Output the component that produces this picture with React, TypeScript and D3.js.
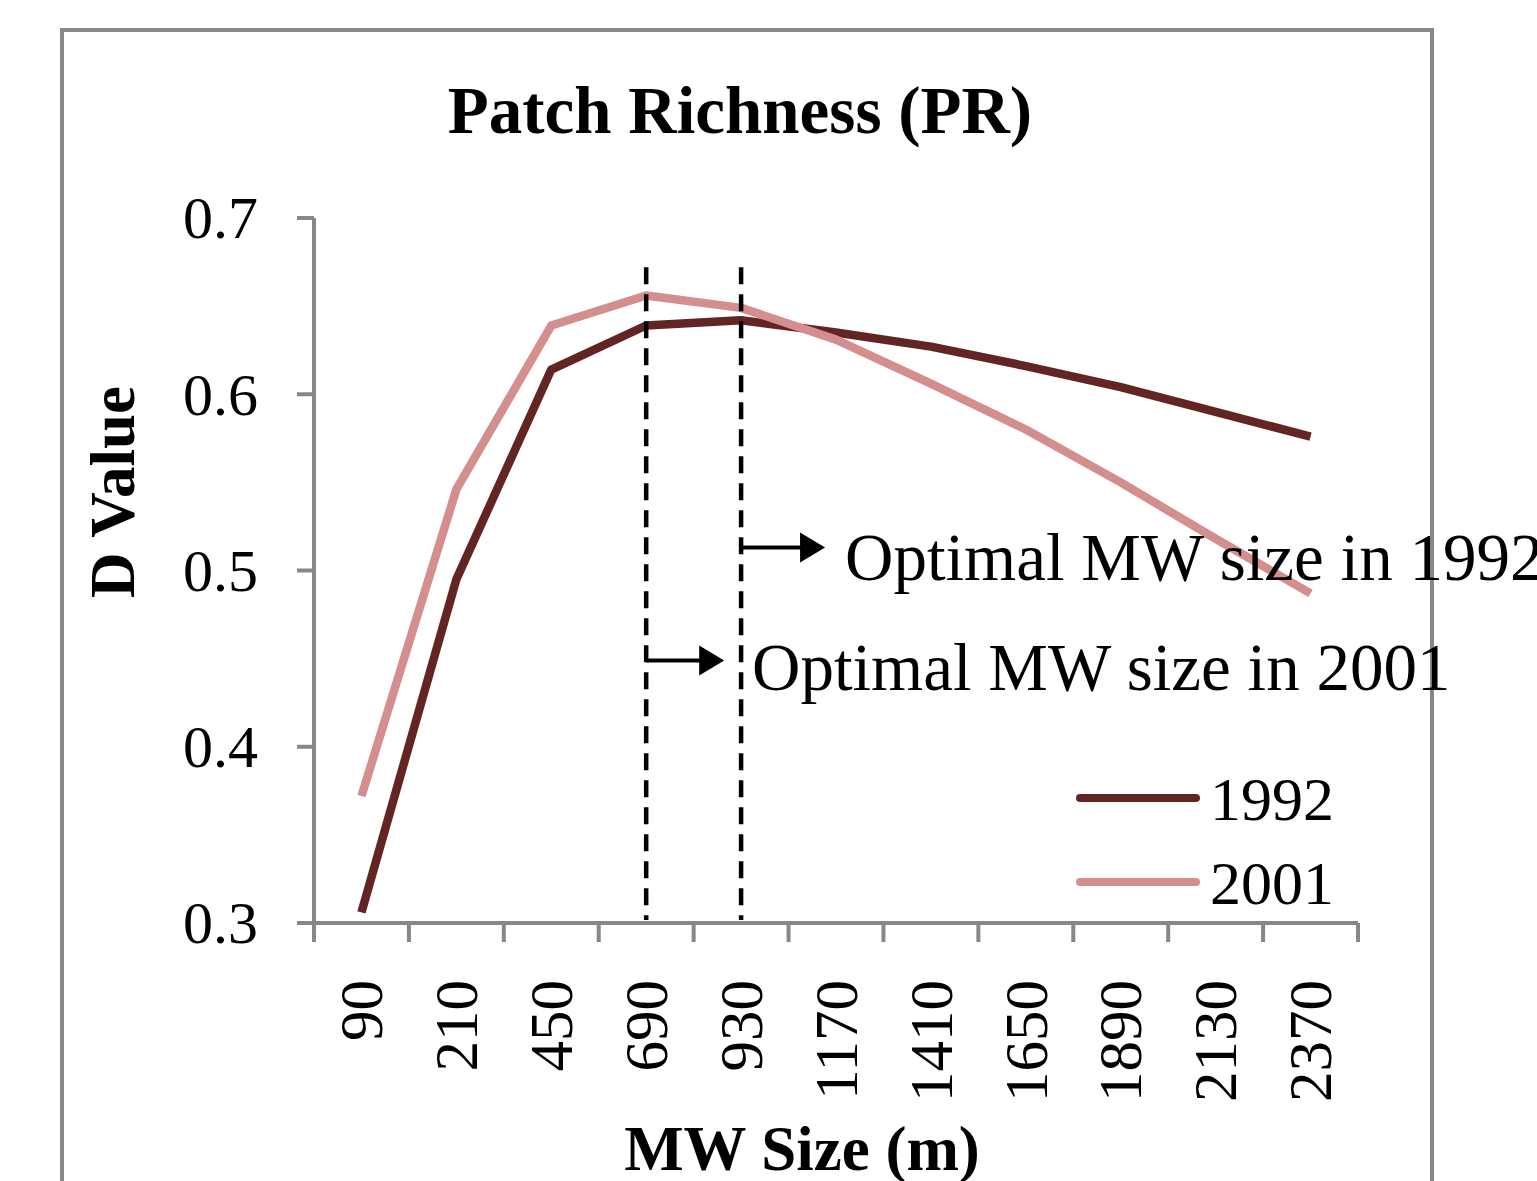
import React from 'react';
import * as d3 from 'd3';

const sizes = ['90', '210', '450', '690', '930', '1170', '1410', '1650', '1890', '2130', '2370'];
const values1992 = [0.306, 0.495, 0.614, 0.639, 0.642, 0.635, 0.627, 0.616, 0.604, 0.590, 0.576];
const values2001 = [0.372, 0.546, 0.639, 0.656, 0.649, 0.631, 0.606, 0.580, 0.550, 0.518, 0.487];
const yTicks = [0.3, 0.4, 0.5, 0.6, 0.7];

const series = [
  { name: '1992', values: values1992, color: '#632523' },
  { name: '2001', values: values2001, color: '#d38e8d' },
];

// optimal sizes marked with dashed lines
const optimal = [
  { size: '930', label: 'Optimal MW size in 1992', at: 0.513, len: 84, tx: 845, ty: 580 },
  { size: '690', label: 'Optimal MW size in 2001', at: 0.449, len: 78, tx: 752, ty: 690 },
];

const width = 1537;
const height = 1181;
const margin = { top: 218, right: 179, bottom: 258, left: 314 };
const axisColor = '#878787';
const serif = '"Liberation Serif", "Times New Roman", serif';

const App = () => {
  const x = d3.scaleBand().domain(sizes).range([margin.left, width - margin.right]);
  const y = d3.scaleLinear().domain([0.3, 0.7]).range([height - margin.bottom, margin.top]);
  const cx = (s: string) => (x(s) as number) + x.bandwidth() / 2;
  const y0 = y(0.3);

  const line = d3.line<number>()
    .x((_, i) => cx(sizes[i]))
    .y(d => y(d));

  const edges = sizes.map(s => x(s) as number).concat([width - margin.right]);

  return (
    <svg width={width} height={height} style={{ position: 'absolute', left: 0, top: 0, background: '#fff' }}
      fontFamily={serif}>
      <rect x={62} y={30} width={1370} height={1200} fill="none" stroke={axisColor} strokeWidth={4} />
      <text x={740} y={133} textAnchor="middle" fontWeight="bold" fontSize={67}>Patch Richness (PR)</text>

      {/* y axis */}
      <line x1={margin.left} x2={margin.left} y1={y(0.7)} y2={y0} stroke={axisColor} strokeWidth={4} />
      {yTicks.map(t => (
        <g key={t}>
          <line x1={margin.left - 17} x2={margin.left} y1={y(t)} y2={y(t)} stroke={axisColor} strokeWidth={4} />
          <text x={258} y={y(t)} dy="0.34em" textAnchor="end" fontSize={60}>{t.toFixed(1)}</text>
        </g>
      ))}
      <text transform={`translate(134,492) rotate(-90)`} textAnchor="middle" fontWeight="bold" fontSize={63}>D Value</text>

      {/* x axis */}
      <line x1={margin.left - 17} x2={width - margin.right} y1={y0} y2={y0} stroke={axisColor} strokeWidth={4} />
      {edges.map((e, i) => (
        <line key={i} x1={e} x2={e} y1={y0} y2={y0 + 19} stroke={axisColor} strokeWidth={4} />
      ))}
      {sizes.map(s => (
        <text key={s} transform={`translate(${cx(s)},980) rotate(-90)`} dy="0.34em" textAnchor="end" fontSize={61}>{s}</text>
      ))}
      <text x={802} y={1170} textAnchor="middle" fontWeight="bold" fontSize={63}>MW Size (m)</text>

      {/* series */}
      {series.map(sr => (
        <path key={sr.name} d={line(sr.values) as string} fill="none" stroke={sr.color} strokeWidth={8.5} strokeLinejoin="round" />
      ))}

      {/* optimal markers */}
      {optimal.map(o => {
        const ox = cx(o.size);
        const oy = y(o.at);
        return (
          <g key={o.size}>
            <line x1={ox} x2={ox} y1={y(0.672)} y2={y0 - 3} stroke="#000" strokeWidth={4.5} strokeDasharray="17 10" />
            <line x1={ox} x2={ox + o.len - 20} y1={oy} y2={oy} stroke="#000" strokeWidth={4} />
            <path d={`M${ox + o.len - 25},${oy - 15} L${ox + o.len},${oy} L${ox + o.len - 25},${oy + 15} Z`} fill="#000" />
            <text x={o.tx} y={o.ty} fontSize={67}>{o.label}</text>
          </g>
        );
      })}

      {/* legend */}
      {series.map((sr, i) => (
        <g key={sr.name}>
          <line x1={1080} x2={1196} y1={798 + i * 84} y2={798 + i * 84} stroke={sr.color} strokeWidth={8} strokeLinecap="round" />
          <text x={1210} y={820 + i * 84} fontSize={62}>{sr.name}</text>
        </g>
      ))}
    </svg>
  );
};

export default App;
